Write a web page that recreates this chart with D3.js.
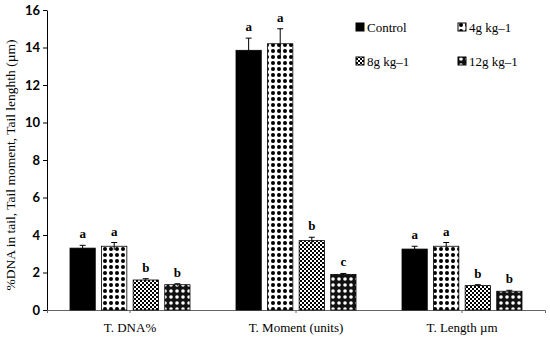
<!DOCTYPE html>
<html>
<head>
<meta charset="utf-8">
<script src="https://cdn.jsdelivr.net/npm/d3@7"></script>
<style>
  body { margin: 0; background: #fff; }
  svg { display: block; }
</style>
</head>
<body>
<script>
// chart data
var categories = ['T. DNA%', 'T. Moment (units)', 'T. Length \u00b5m'];
var seriesNames = ['Control', '4g kg\u20131', '8g kg\u20131', '12g kg\u20131'];
var means = [
  [3.3, 13.85, 3.25],   // Control
  [3.4, 14.2, 3.4],     // 4g
  [1.6, 3.7, 1.3],      // 8g
  [1.35, 1.9, 1.0]      // 12g
];
var errors = [
  [0.15, 0.65, 0.15],
  [0.2, 0.8, 0.2],
  [0.07, 0.18, 0.05],
  [0.05, 0.05, 0.05]
];
var letters = [
  ['a', 'a', 'a'],
  ['a', 'a', 'a'],
  ['b', 'b', 'b'],
  ['b', 'c', 'b']
];
var yTicks = [0, 2, 4, 6, 8, 10, 12, 14, 16];

var width = 550, height = 338;
var margin = {top: 10, right: 5, bottom: 28, left: 47};
var serif = "'Liberation Serif', 'DejaVu Serif', serif";

var svg = d3.select('body').append('svg')
            .attr('width', width)
            .attr('height', height);

// fill patterns
var defs = svg.append('defs');

var p1 = defs.append('pattern').attr('id', 'dots')
             .attr('patternUnits', 'userSpaceOnUse')
             .attr('width', 6).attr('height', 6);
p1.append('rect').attr('width', 6).attr('height', 6).attr('fill', '#fff');
p1.append('circle').attr('cx', 3).attr('cy', 3).attr('r', 2).attr('fill', '#000');

var p2 = defs.append('pattern').attr('id', 'checks')
             .attr('patternUnits', 'userSpaceOnUse')
             .attr('width', 4).attr('height', 4);
p2.append('rect').attr('width', 4).attr('height', 4).attr('fill', '#fff');
p2.append('rect').attr('width', 2).attr('height', 2).attr('fill', '#000');
p2.append('rect').attr('x', 2).attr('y', 2).attr('width', 2).attr('height', 2).attr('fill', '#000');

var p3 = defs.append('pattern').attr('id', 'rings')
             .attr('patternUnits', 'userSpaceOnUse')
             .attr('width', 6).attr('height', 6);
p3.append('rect').attr('width', 6).attr('height', 6).attr('fill', '#111');
p3.append('circle').attr('cx', 3).attr('cy', 3).attr('r', 1.8).attr('fill', '#fff');

var fills = ['#000', 'url(#dots)', 'url(#checks)', 'url(#rings)'];

var x0 = d3.scaleBand()
           .domain(categories)
           .range([margin.left, width - margin.right]);

var x1 = d3.scaleBand()
           .domain(d3.range(seriesNames.length))
           .range([0, 120])
           .paddingInner(0.2);

var y = d3.scaleLinear()
          .domain([0, 16])
          .range([height - margin.bottom, margin.top]);

// y axis
var yAxis = svg.append('g')
               .attr('transform', 'translate(' + margin.left + ',0)')
               .call(d3.axisLeft(y).tickValues(yTicks).tickSize(4).tickSizeOuter(0));
yAxis.select('.domain').attr('stroke', '#000');
yAxis.selectAll('text')
     .attr('font-family', 'Lato, sans-serif')
     .attr('font-weight', 'bold')
     .attr('font-size', 13)
     .attr('fill', '#000');

// x axis (ticks at category centres)
var xAxis = svg.append('g')
               .attr('transform', 'translate(0,' + (height - margin.bottom) + ')')
               .call(d3.axisBottom(x0).tickSize(3).tickSizeOuter(3).tickFormat(''));
xAxis.select('.domain').attr('stroke', '#666');
xAxis.selectAll('.tick line').attr('stroke', '#666');

svg.append('g').selectAll('text')
   .data(categories)
   .enter().append('text')
   .attr('x', function(d) { return x0(d) + x0.bandwidth() / 2; })
   .attr('y', height - 6)
   .attr('text-anchor', 'middle')
   .attr('font-family', serif)
   .attr('font-size', 13)
   .text(function(d) { return d; });

// y title
svg.append('text')
   .attr('transform', 'translate(15,' + (margin.top + 155) + ') rotate(-90)')
   .attr('text-anchor', 'middle')
   .attr('font-family', serif)
   .attr('font-size', 13.5)
   .text('%DNA in tail, Tail moment, Tail lenghth (\u00b5m)');

// bars
var groupOffset = function(c) { return x0(c) + x0.bandwidth() / 2 - 60; };

seriesNames.forEach(function(name, s) {
  var g = svg.append('g');
  var rows = categories.map(function(c, i) {
    return {cat: c, v: means[s][i], e: errors[s][i], l: letters[s][i]};
  });
  var cx = function(d) { return groupOffset(d.cat) + x1(s) + x1.bandwidth() / 2; };

  g.selectAll('rect')
   .data(rows)
   .enter().append('rect')
   .attr('x', function(d) { return groupOffset(d.cat) + x1(s); })
   .attr('y', function(d) { return y(d.v); })
   .attr('width', x1.bandwidth())
   .attr('height', function(d) { return y(0) - y(d.v); })
   .attr('fill', fills[s])
   .attr('stroke', '#000')
   .attr('stroke-width', 0.8);

  // error bars (lower half hidden inside control bar)
  g.selectAll('line.err')
   .data(rows)
   .enter().append('line')
   .attr('class', 'err')
   .attr('x1', cx).attr('x2', cx)
   .attr('y1', function(d) { return y(d.v - d.e); })
   .attr('y2', function(d) { return y(d.v); })
   .attr('stroke', s === 0 ? '#000' : '#000')
   .attr('stroke-width', 1);
  g.selectAll('line.errUp')
   .data(rows)
   .enter().append('line')
   .attr('class', 'errUp')
   .attr('x1', cx).attr('x2', cx)
   .attr('y1', function(d) { return y(d.v); })
   .attr('y2', function(d) { return y(d.v + d.e); })
   .attr('stroke', '#000')
   .attr('stroke-width', 1);
  g.selectAll('line.errTop')
   .data(rows)
   .enter().append('line')
   .attr('class', 'errTop')
   .attr('x1', function(d) { return cx(d) - 3; })
   .attr('x2', function(d) { return cx(d) + 3; })
   .attr('y1', function(d) { return y(d.v + d.e); })
   .attr('y2', function(d) { return y(d.v + d.e); })
   .attr('stroke', '#000')
   .attr('stroke-width', 1);

  // significance letters
  g.selectAll('text')
   .data(rows)
   .enter().append('text')
   .attr('x', cx)
   .attr('y', function(d) { return y(d.v + d.e) - 7; })
   .attr('text-anchor', 'middle')
   .attr('font-family', serif)
   .attr('font-weight', 'bold')
   .attr('font-size', 13)
   .text(function(d) { return d.l; });
});

// legend
var legendPos = [[356, 28], [458, 28], [356, 62], [458, 62]];
var legend = svg.append('g').selectAll('g')
                .data(seriesNames)
                .enter().append('g')
                .attr('transform', function(d, i) {
                  return 'translate(' + legendPos[i][0] + ',' + legendPos[i][1] + ')';
                });
legend.append('rect')
      .attr('x', 0).attr('y', -5)
      .attr('width', 8).attr('height', 8)
      .attr('fill', function(d, i) { return fills[i]; })
      .attr('stroke', '#000')
      .attr('stroke-width', 1);
legend.append('text')
      .attr('x', 11).attr('y', 4)
      .attr('font-family', serif)
      .attr('font-size', 13)
      .text(function(d) { return d; });
</script>
</body>
</html>
